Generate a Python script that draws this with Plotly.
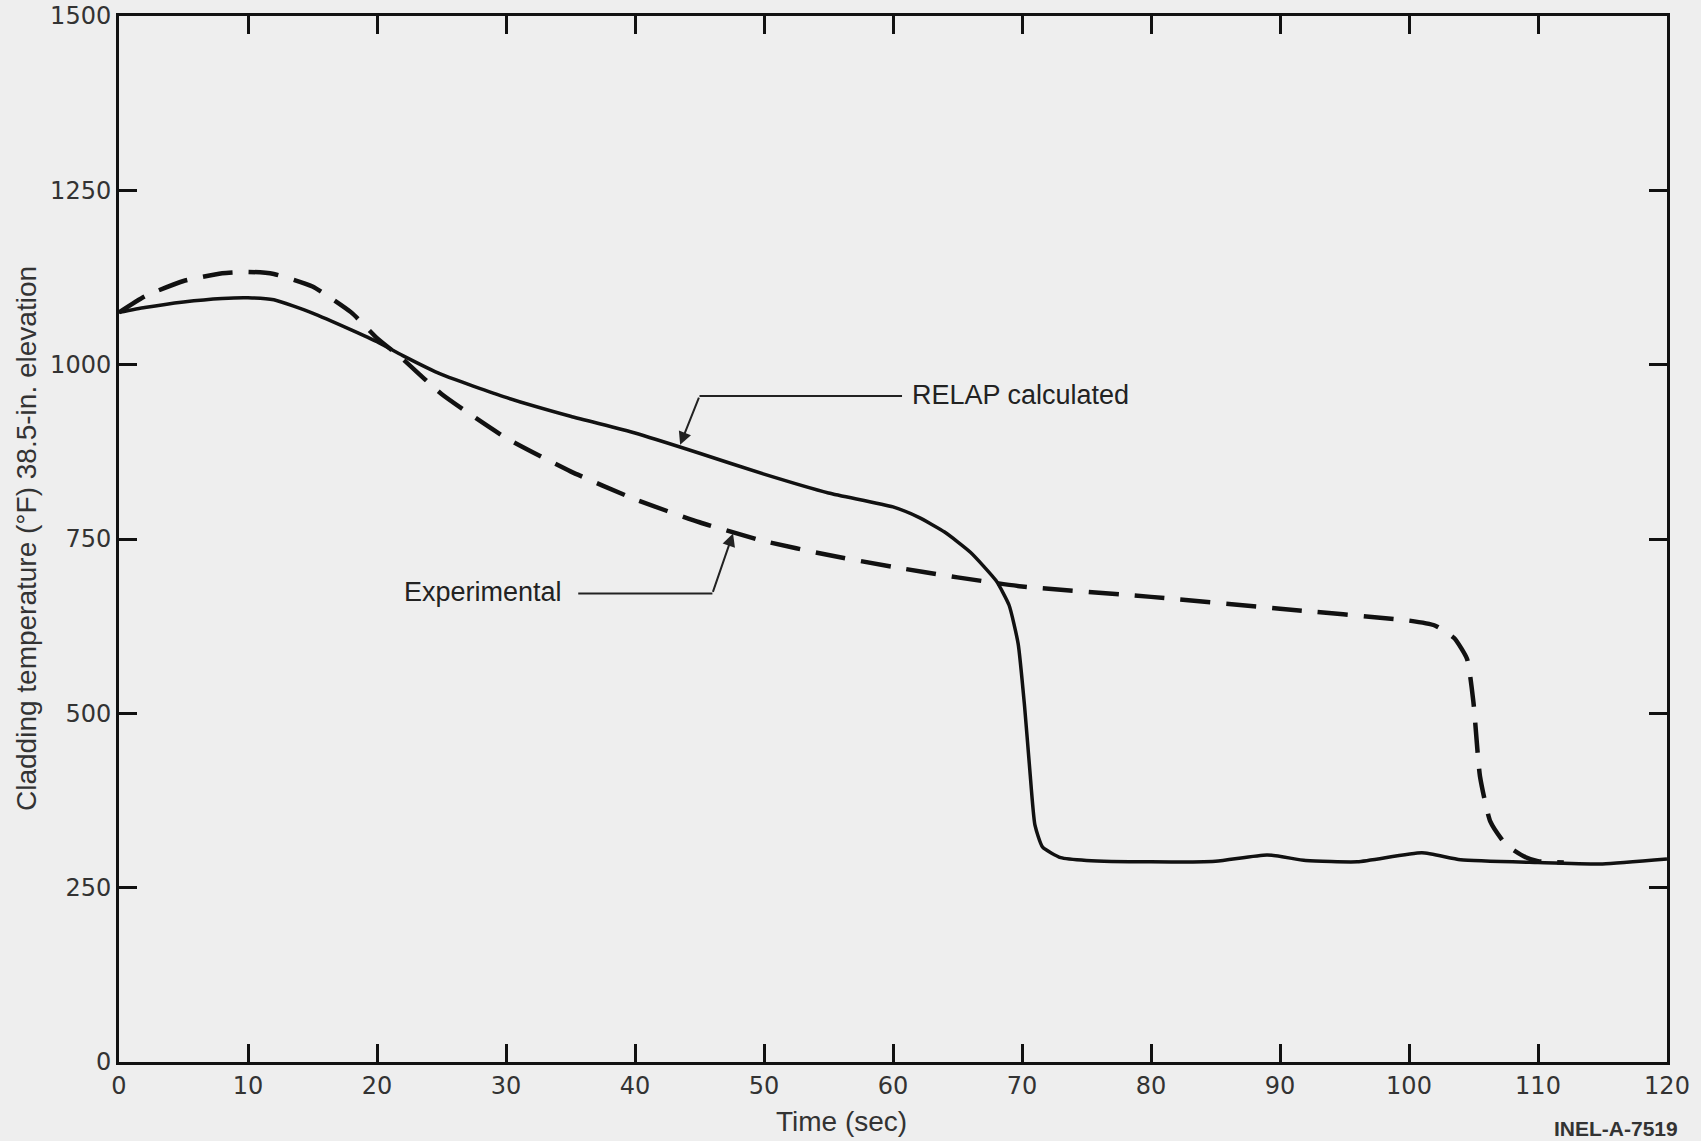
import plotly.graph_objects as go

# RELAP calculated (solid)
relap_t = [0, 2, 5, 8, 10, 12, 15, 18, 20, 22, 25, 30, 35, 40, 45, 50, 55, 60, 62, 64, 66, 68, 69, 69.7, 70.2, 70.6, 71.0, 71.6, 73, 75, 80, 85, 89, 92, 96, 101, 104, 110, 115, 120]
relap_T = [1075, 1082, 1090, 1095, 1096, 1093, 1074, 1050, 1033, 1013, 986, 953, 926, 902, 873, 843, 816, 796, 781, 760, 731, 690, 655, 600, 510, 420, 340, 308, 293, 289, 287, 288, 297, 289, 287, 300, 290, 286, 284, 291]

# Experimental (dashed)
exp_t = [0, 2, 5, 8, 10, 12, 15, 18, 20, 22, 25, 30, 35, 40, 45, 50, 55, 60, 65, 70, 80, 90, 100, 102, 103.5, 104.5, 105.0, 105.5, 106.3, 107.5, 109, 110, 112]
exp_T = [1075, 1098, 1120, 1131, 1133, 1130, 1112, 1075, 1038, 1008, 958, 895, 847, 807, 774, 747, 727, 710, 695, 682, 667, 650, 633, 626, 608, 578, 515, 410, 345, 312, 294, 288, 286]

x_ticks = [0, 10, 20, 30, 40, 50, 60, 70, 80, 90, 100, 110, 120]
y_ticks = [0, 250, 500, 750, 1000, 1250, 1500]

BG = "#eeeeee"
FONT = "Liberation Sans, Arial, Helvetica, sans-serif"
TICKFONT = "DejaVu Sans, Liberation Sans, sans-serif"

fig = go.Figure()
fig.add_trace(go.Scatter(x=relap_t, y=relap_T, mode="lines",
                         line=dict(color="#111111", width=3.5, shape="spline", smoothing=0.5),
                         name="RELAP calculated", showlegend=False))
fig.add_trace(go.Scatter(x=exp_t, y=exp_T, mode="lines",
                         line=dict(color="#111111", width=4.5, dash="30px,16px", shape="spline", smoothing=0.5),
                         name="Experimental", showlegend=False))

# Leader lines (horizontal segments)
fig.add_shape(type="line", x0=45.0, y0=955, x1=60.7, y1=955, xref="x", yref="y",
              line=dict(color="#222222", width=2))
fig.add_shape(type="line", x0=35.6, y0=672, x1=46.0, y1=672, xref="x", yref="y",
              line=dict(color="#222222", width=2))

annotations = [
    dict(x=61.3, y=957, xref="x", yref="y", text="RELAP calculated", showarrow=False,
         xanchor="left", yanchor="middle", font=dict(size=27, color="#222222", family=FONT)),
    dict(x=43.5, y=885, ax=45.0, ay=955, xref="x", yref="y", axref="x", ayref="y",
         text="", showarrow=True, arrowhead=2, arrowsize=1.3, arrowwidth=2, arrowcolor="#222222"),
    dict(x=21.9, y=674, xref="x", yref="y", text="Experimental", showarrow=False,
         xanchor="left", yanchor="middle", font=dict(size=27, color="#222222", family=FONT)),
    dict(x=47.6, y=758, ax=46.0, ay=672, xref="x", yref="y", axref="x", ayref="y",
         text="", showarrow=True, arrowhead=2, arrowsize=1.3, arrowwidth=2, arrowcolor="#222222"),
    dict(x=0, y=0.5, xref="paper", yref="paper", text="Cladding temperature (°F) 38.5-in. elevation",
         textangle=-90, showarrow=False, xanchor="center", yanchor="middle", xshift=-93,
         font=dict(size=28, color="#333333", family=FONT)),
    dict(x=56, y=0, xref="x", yref="paper", text="Time (sec)", showarrow=False,
         xanchor="center", yanchor="middle", yshift=-59,
         font=dict(size=28, color="#333333", family=FONT)),
    dict(x=1.0, y=0, xref="paper", yref="paper", text="<b>INEL-A-7519</b>", showarrow=False,
         xanchor="right", yanchor="middle", yshift=-66, xshift=13,
         font=dict(size=21, color="#333333", family=FONT)),
]

fig.update_layout(
    width=1701, height=1141,
    margin=dict(l=119, r=34, t=16, b=79, autoexpand=False),
    paper_bgcolor=BG, plot_bgcolor=BG,
    font=dict(family=FONT, size=20, color="#333333"),
    annotations=annotations,
    xaxis=dict(range=[0, 120], tickvals=x_ticks, ticktext=[str(v) for v in x_ticks],
               showgrid=False, zeroline=False, showline=True, linecolor="#111111", linewidth=3,
               ticks="inside", ticklen=18, tickwidth=3, tickcolor="#111111", mirror="allticks",
               tickfont=dict(size=24, color="#333333", family=TICKFONT)),
    yaxis=dict(range=[0, 1500], tickvals=y_ticks, ticktext=[str(v) for v in y_ticks],
               showgrid=False, zeroline=False, showline=True, linecolor="#111111", linewidth=3,
               ticks="inside", ticklen=18, tickwidth=3, tickcolor="#111111", mirror="allticks",
               tickfont=dict(size=24, color="#333333", family=TICKFONT)),
)

fig.write_html("out.html", config={"displayModeBar": False},
               post_script="document.body.style.margin='0';document.body.style.background='#eeeeee';")
